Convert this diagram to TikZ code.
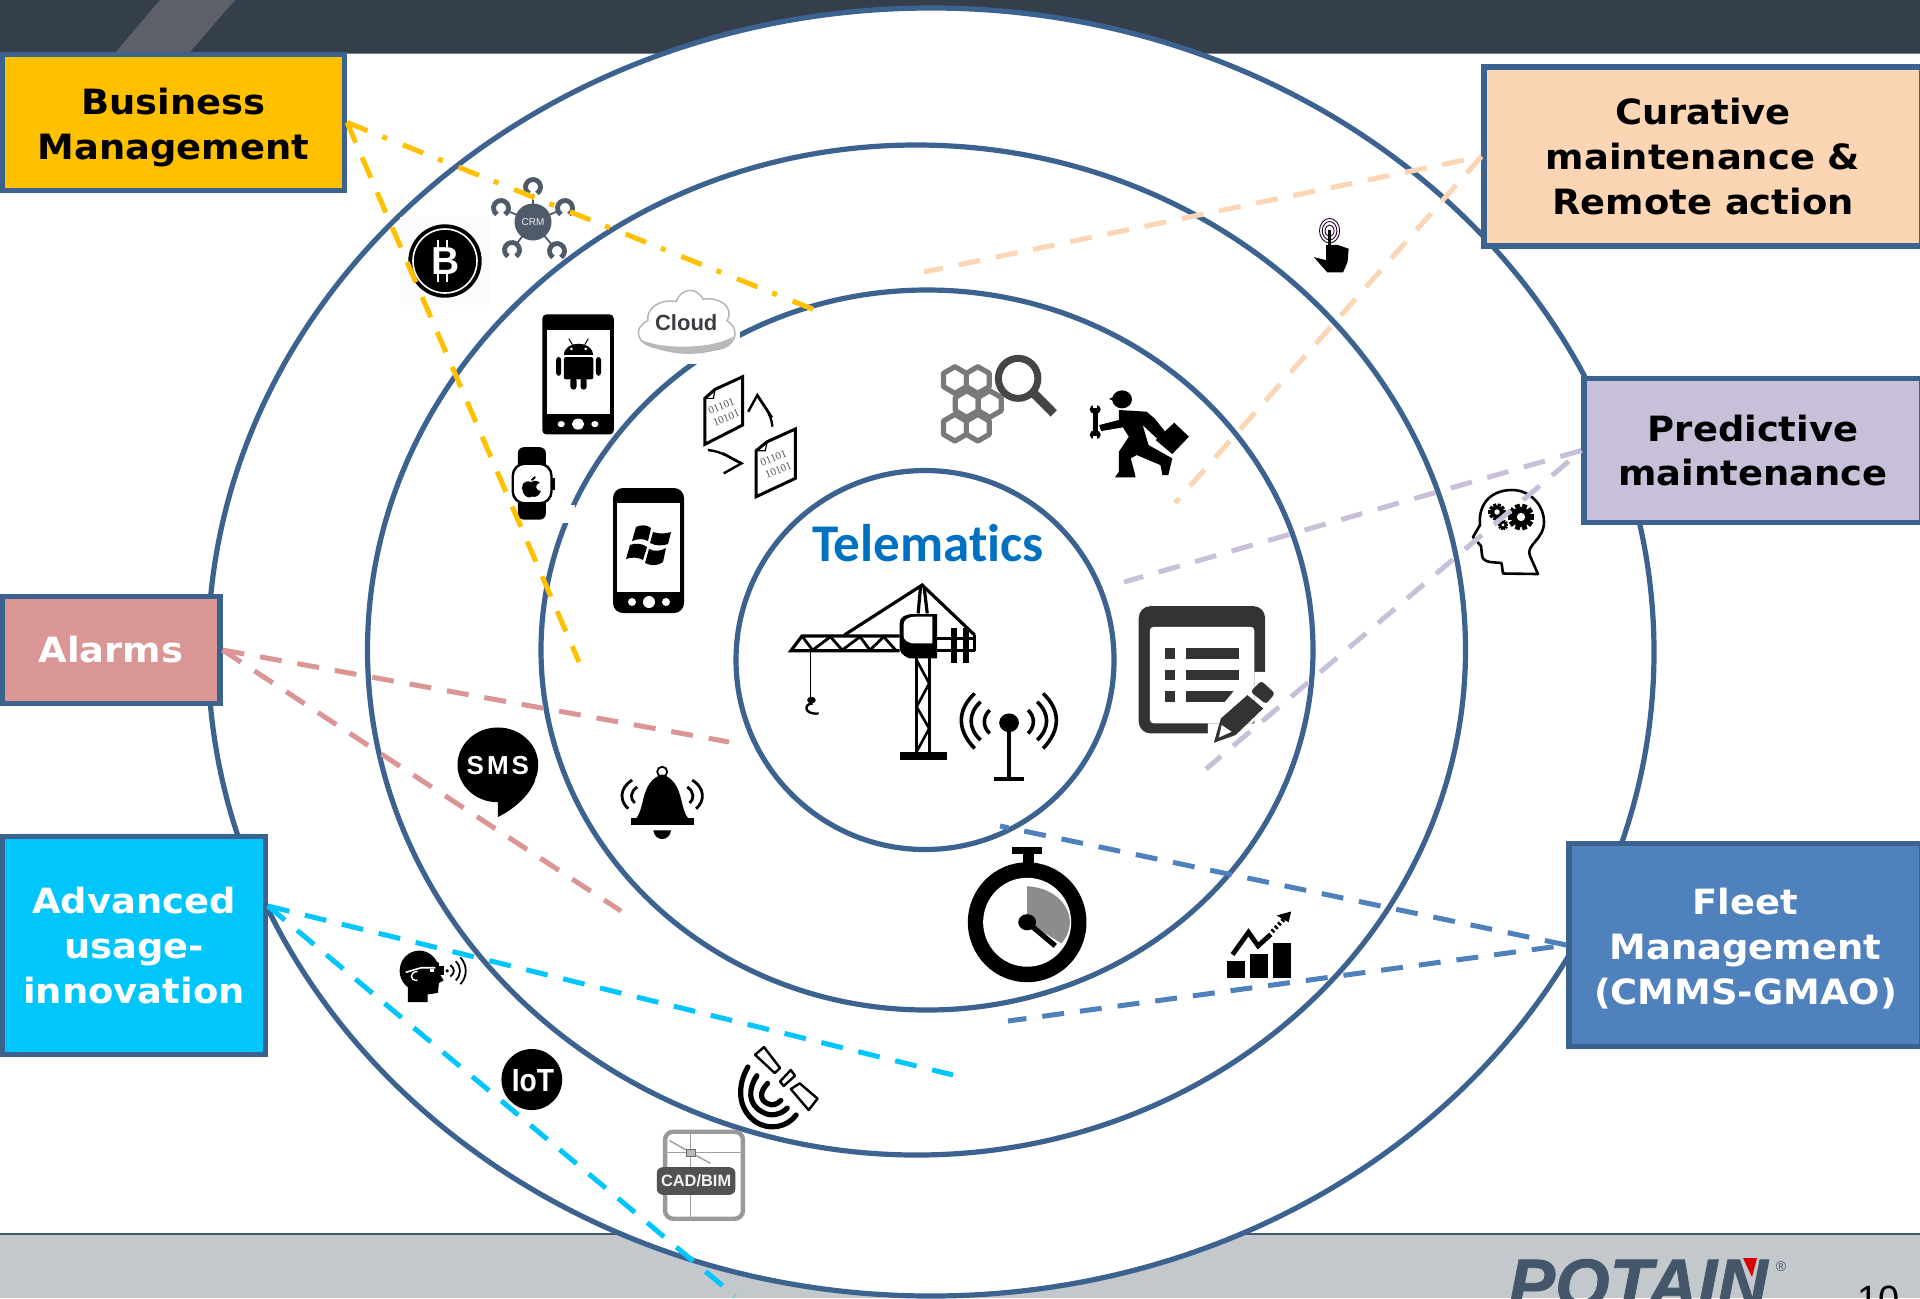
\documentclass[tikz,border=0pt]{standalone}
\usepackage{fontspec}
\usetikzlibrary{shapes.geometric}
\setmainfont{Liberation Sans}
\newfontfamily\boxfont[FakeStretch=1.06]{DejaVu Sans}
\newfontfamily\logofont[FakeBold=1.2]{Liberation Sans}
\newfontfamily\telefont{Carlito}
\newfontfamily\binfont{Liberation Serif}
\definecolor{ring}{HTML}{3C6290}
\definecolor{hdr}{HTML}{353F4B}
\definecolor{stripe}{HTML}{5D6069}
\definecolor{ftr}{HTML}{C3C8CC}
\definecolor{ftrline}{HTML}{44576A}
\definecolor{cBiz}{HTML}{FFC000}
\definecolor{cCur}{HTML}{FCD5B4}
\definecolor{cPred}{HTML}{C8C0D9}
\definecolor{cAlarm}{HTML}{D99694}
\definecolor{cAdv}{HTML}{00C6FC}
\definecolor{cFleet}{HTML}{4F81BD}
\definecolor{crmgrey}{HTML}{4F5B69}
\definecolor{teleblue}{HTML}{0070C0}
\tikzset{
 zA/.style={shift={(0,0)},x=.2551pt,y=-.1724pt},
 zB/.style={shift={(700,330)},x=.1976pt,y=-.1667pt},
 zC/.style={shift={(380,700)},x=.1786pt,y=-.1907pt},
 zD/.style={shift={(920,770)},x=.3189pt,y=-.1684pt},
 zE/.style={shift={(1040,0)},x=.2806pt,y=-.1913pt},
 ringline/.style={draw=ring,line width=2.6pt},
 infobox/.style={draw=ring,line width=2.6pt,inner sep=0pt,align=center,
   font=\boxfont\bfseries\fontsize{17.4}{22.4}\selectfont},
 conn/.style={line width=2.5pt,dash pattern=on 11pt off 8pt},
 conndot/.style={line width=2.5pt,dash pattern=on 11pt off 8pt on 2.5pt off 8.5pt},
}
\newcommand{\horseshoe}[2]{%
 \draw[crmgrey,line width=2.4pt] (#1,#2) ++(122:7.5) arc[start angle=122,end angle=418,radius=7.5];}
\newcommand{\gearicon}[3]{%
 \begin{scope}[shift={(#1,#2)}]
  \fill[black] (0,0) circle[radius=#3*0.85];
  \foreach \a in {0,36,...,324} \draw[black,line width=#3*0.22pt] (\a:#3*0.7) -- (\a:#3*1.15);
  \fill[white] (0,0) circle[radius=#3*0.36];
 \end{scope}}
\begin{document}
\begin{tikzpicture}[x=.5pt,y=-.5pt]
\useasboundingbox (0,0) rectangle (1920,1298);
\clip (0,0) rectangle (1920,1298);
\fill[white] (0,0) rectangle (1920,1298);
% header and footer
\fill[hdr] (0,0) rectangle (1920,53);
\draw[gray,line width=.5pt] (0,53.5) -- (1920,53.5);
\fill[stripe] (160,0) -- (235,0) -- (189,53) -- (115,53) -- cycle;
\fill[ftr] (0,1234) rectangle (1920,1298);
\draw[ftrline,line width=.9pt] (0,1234) -- (1920,1234);
% POTAIN logo
\node[anchor=base west,inner sep=0pt,text=ftrline,font=\logofont\bfseries\itshape\fontsize{35}{35}\selectfont] (logo) at (1508,1308) {POTAIN};
\fill[red!85!black] (1743,1258) -- (1757,1258) -- (1752,1277) -- cycle;
\node[text=ftrline,inner sep=0pt,font=\fontsize{7}{7}\selectfont] (reg) at (1781,1267) {®};
\node[anchor=base west,inner sep=0pt,font=\fontsize{19}{19}\selectfont] (pageno) at (1857,1312) {10};
% rings
\path[ringline,fill=white] (931,652) circle[x radius=723,y radius=644];
\path[ringline] (916.5,650) circle[x radius=549,y radius=505];
\path[ringline] (927,650) circle[x radius=386,y radius=360];
\path[ringline] (925,660) circle[x radius=189,y radius=189.5];
% patches interrupting rings
\fill[white] (637,285) rectangle (740,364);
\fill[white] (560,505) rectangle (575,523);
\fill[white!98.5!black] (400,217) rectangle (490,305);
% Telematics
\node[text=teleblue,inner sep=0pt,font=\telefont\bfseries\fontsize{26.5}{26.5}\selectfont] (tele) at (928,543) {Telemat\kern0pt ics};
% crane + antenna + binaries + hex + worker + form (zoom B coordinates)
\begin{scope}[zB]
 \begin{scope}[line width=1.6pt,black]
  \draw (505,918) -- (258,918) -- (230,962) -- (505,962);
  \draw[line width=1.4pt] (258,918) -- (285,960) -- (330,920) -- (360,960) -- (405,920) -- (430,960) -- (465,920) -- (495,960);
  \draw (365,915) -- (562,765) -- (695,915);
  \draw (552,850) -- (558,770); \draw (575,850) -- (567,770);
  \fill (505,880) .. controls (505,860) and (520,852) .. (540,852) -- (600,852) -- (600,985) -- (530,985) .. controls (510,975) and (505,965) .. (505,950) -- cycle;
  \fill[white] (515,885) .. controls (515,870) and (525,860) .. (545,860) -- (588,860) -- (588,940) -- (545,940) .. controls (525,940) and (515,930) .. (515,915) -- cycle;
  \draw (548,985) -- (548,1265); \draw (580,985) -- (580,1265);
  \draw[line width=1.3pt] (548,990) -- (580,1060) -- (548,1130) -- (580,1195) -- (548,1265);
  \fill (505,1265) rectangle (625,1290);
  \draw (600,925) -- (695,925); \draw (600,962) -- (695,962); \draw (695,915) -- (695,962);
  \fill (635,895) rectangle (650,1000); \fill (665,895) rectangle (680,1000);
  \draw[line width=.8pt] (280,962) -- (280,1110);
  \fill (282,1110) circle[x radius=11,y radius=10];
  \draw[line width=1.2pt] (285,1120) .. controls (262,1120) and (262,1155) .. (300,1150);
 \end{scope}
 % antenna
 \fill (782,1178) circle[x radius=25,y radius=28];
 \draw[line width=2pt] (782,1178) -- (782,1345);
 \fill (745,1342) rectangle (820,1352);
 \begin{scope}[line width=1.8pt,black]
  \draw (695,1090) .. controls (650,1140) and (650,1200) .. (695,1255);
  \draw (710,1115) .. controls (678,1150) and (678,1195) .. (710,1230);
  \draw (733,1140) .. controls (715,1160) and (715,1190) .. (733,1210);
  \draw (868,1090) .. controls (913,1140) and (913,1200) .. (868,1255);
  \draw (853,1115) .. controls (885,1150) and (885,1195) .. (853,1230);
  \draw (830,1140) .. controls (848,1160) and (848,1190) .. (830,1210);
 \end{scope}
 % binary files
 \draw[line width=1.5pt,fill=white] (38,178) -- (108,140) -- (108,285) -- (12,343) -- (12,205) -- cycle;
 \draw[line width=.6pt] (12,205) -- (34,205) -- (38,178);
 \node[rotate=22,text=gray!70!black,inner sep=0pt,align=center,font=\binfont\fontsize{5.5}{6.5}\selectfont] (bin1) at (60,245) {01101\\10101};
 \draw[line width=1.5pt,fill=white] (170,335) -- (241,297) -- (241,445) -- (142,500) -- (142,362) -- cycle;
 \draw[line width=.6pt] (142,362) -- (165,362) -- (170,335);
 \node[rotate=22,text=gray!70!black,inner sep=0pt,align=center,font=\binfont\fontsize{5.5}{6.5}\selectfont] (bin2) at (192,402) {01101\\10101};
 \draw[line width=1.2pt] (183,290) .. controls (180,245) and (160,230) .. (145,195);
 \draw[line width=1.2pt] (122,245) -- (145,195) -- (182,262);
 \draw[line width=1.2pt] (20,360) .. controls (60,365) and (75,385) .. (105,400);
 \draw[line width=1.2pt] (58,370) -- (105,400) -- (60,430);
 % hexes and magnifier
 \foreach \cx/\cy in {645/150,703/150,675/222,733/222,645/293,703/293}
  \draw[shift={(\cx,\cy)},draw=gray!95!black,line width=2.6pt,line join=round] (0,-40) -- (29,-20) -- (29,20) -- (0,40) -- (-29,20) -- (-29,-20) -- cycle;
 \path[draw=black!73,fill=white,line width=3.5pt] (805,145) circle[x radius=50,y radius=60];
 \draw[black!73,line width=4.5pt] (845,190) -- (895,250);
 % worker
 \fill (1068,208) circle[x radius=25,y radius=27];
 \fill (1035,207) -- (1055,195) -- (1055,217) -- cycle;
 \fill (1060,240) -- (1130,245) -- (1150,265) -- (1187,320) -- (1165,335) -- (1120,285) -- (1135,345) -- (1195,385) -- (1185,435) -- (1170,435) -- (1165,405) -- (1105,375) -- (1090,385) -- (1100,430) -- (1102,442) -- (1050,442) -- (1060,425) -- (1060,365) -- (1085,320) -- (1070,292) -- (1015,303) -- (1010,285) -- (1060,270) -- cycle;
 \draw[line width=2.6pt,line cap=round] (1000,240) -- (1000,312);
 \fill (1000,238) circle[x radius=14,y radius=14]; \fill (1000,314) circle[x radius=14,y radius=14];
 \fill[white] (995,222) rectangle (1005,235); \fill[white] (995,318) rectangle (1005,330);
 \fill (1200,278) -- (1237,320) -- (1195,372) -- (1153,330) -- cycle;
 % form
 \fill[black!80,rounded corners=6pt] (1110,828) rectangle (1430,1210);
 \fill[white,rounded corners=2pt] (1138,890) rectangle (1403,1180);
 \fill[white] (1285,1215) -- (1285,1180) -- (1403,1180) -- (1403,1025) -- (1435,1025) -- (1435,1215) -- cycle;
 \fill[black!80] (1177,955) rectangle (1203,987);
 \fill[black!80] (1177,1020) rectangle (1203,1050);
 \fill[black!80] (1177,1083) rectangle (1203,1115);
 \fill[black!80] (1230,955) rectangle (1363,987);
 \fill[black!80] (1230,1020) rectangle (1363,1050);
 \fill[black!80] (1230,1083) -- (1350,1083) -- (1328,1115) -- (1230,1115) -- cycle;
 \fill[black!80,rounded corners=1.5pt] (1420,1052) -- (1455,1090) -- (1432,1122) -- (1393,1085) -- cycle;
 \fill[black!80] (1385,1095) -- (1425,1135) -- (1355,1215) -- (1300,1238) -- (1318,1165) -- cycle;
 \fill[white] (1320,1185) -- (1345,1205) -- (1313,1222) -- cycle;
\end{scope}
% left upper icons (zoom A coordinates)
\begin{scope}[zA]
 % cloud
 \draw[gray!60,line width=.7pt,fill=white] (1290,1010) .. controls (1245,1000) and (1240,950) .. (1270,930) .. controls (1265,890) and (1300,865) .. (1325,875) .. controls (1335,835) and (1365,830) .. (1378,868) .. controls (1410,860) and (1440,890) .. (1425,930) .. controls (1455,960) and (1440,1010) .. (1400,1015) .. controls (1360,1030) and (1320,1025) .. (1290,1010) -- cycle;
 \fill[gray!55] (1255,985) .. controls (1300,1015) and (1400,1012) .. (1438,975) .. controls (1430,1005) and (1420,1012) .. (1400,1015) .. controls (1360,1030) and (1320,1025) .. (1290,1010) .. controls (1272,1005) and (1262,998) .. (1255,985) -- cycle;
 \node[text=black!85!cyan,inner sep=0pt,font=\bfseries\fontsize{11}{11}\selectfont] (cloudtxt) at (1345,935) {Cloud};
 % android phone
 \fill[rounded corners=2pt] (1063,912) rectangle (1203,1260);
 \fill[white] (1072,957) rectangle (1196,1200);
 \fill[white] (1100,1230) circle[x radius=7,y radius=9];
 \fill[white] (1133,1230) circle[x radius=12,y radius=16];
 \fill[white] (1166,1230) circle[x radius=7,y radius=9];
 \fill (1105,1030) .. controls (1105,985) and (1163,985) .. (1163,1030) -- cycle;
 \draw[line width=.5pt] (1115,982) -- (1122,1000); \draw[line width=.5pt] (1153,982) -- (1146,1000);
 \fill[rounded corners=1pt] (1105,1036) rectangle (1163,1100);
 \fill[rounded corners=1.5pt] (1090,1035) rectangle (1100,1090);
 \fill[rounded corners=1.5pt] (1168,1035) rectangle (1178,1090);
 \fill[rounded corners=1.5pt] (1118,1095) rectangle (1130,1130);
 \fill[rounded corners=1.5pt] (1138,1095) rectangle (1150,1130);
 \fill[white] (1120,1012) circle[x radius=3,y radius=4]; \fill[white] (1148,1012) circle[x radius=3,y radius=4];
 % apple watch
 \fill[rounded corners=3pt] (1015,1297) rectangle (1070,1507);
 \path[draw=black,fill=white,line width=1.2pt,rounded corners=6pt] (1005,1345) rectangle (1081,1460);
 \fill (1081,1385) rectangle (1087,1420);
 \fill (1041,1398) .. controls (1025,1390) and (1020,1410) .. (1025,1428) .. controls (1030,1445) and (1040,1445) .. (1042,1440) .. controls (1050,1445) and (1058,1435) .. (1060,1425) .. controls (1048,1420) and (1048,1405) .. (1058,1400) .. controls (1052,1392) and (1045,1393) .. (1041,1398) -- cycle;
 \draw[line width=.9pt] (1042,1393) -- (1049,1383);
\end{scope}
% bitcoin
\fill (445,261) circle[radius=36.7];
\draw[white,line width=.8pt] (445,261) circle[radius=32];
\node[text=white,inner sep=0pt,font=\bfseries\fontsize{19.5}{19.5}\selectfont] (btc) at (446,261) {B};
\foreach \tx in {438,447}{
 \draw[white,line width=1.3pt] (\tx,240) -- (\tx,248);
 \draw[white,line width=1.3pt] (\tx,274) -- (\tx,282);
}
% Windows phone
\fill[rounded corners=5pt] (613,488) rectangle (684,613);
\fill[white] (617,503) rectangle (680,592);
\fill[white] (632,602) circle[radius=4]; \fill[white] (649,602) circle[radius=6]; \fill[white] (666,602) circle[radius=4];
\fill (636,527) .. controls (640,525) and (646,524) .. (651,528) -- (648,541) .. controls (643,538) and (637,539) .. (632,541) -- cycle;
\fill (653,532) .. controls (659,534) and (665,534) .. (671,532) -- (668,544) .. controls (662,546) and (656,546) .. (650,543) -- cycle;
\fill (630,545) .. controls (635,543) and (642,543) .. (647,547) -- (643,560) .. controls (638,557) and (631,557) .. (626,559) -- cycle;
\fill (649,549) .. controls (655,552) and (661,551) .. (666,548) -- (663,562) .. controls (658,566) and (651,566) .. (645,563) -- cycle;
% CRM
\coordinate (crmc) at (533,222);
\foreach \hx/\hy in {533/187,501/208,565/208,512/250,557/251}{
 \draw[crmgrey,line width=.9pt] (crmc) -- (\hx,\hy);
 \fill[white] (\hx,\hy) circle[radius=7];
 \horseshoe{\hx}{\hy}
}
\node[fill=crmgrey,ellipse,minimum width=18.5pt,minimum height=18.5pt,inner sep=0pt,text=white!85!gray,font=\fontsize{5}{5}\selectfont] (crm) at (crmc) {CRM};
% lower left icons (zoom C coordinates)
\begin{scope}[zC]
 % SMS
 \fill (330,170) circle[x radius=113,y radius=98];
 \fill (330,255) -- (330,307) .. controls (375,285) and (415,255) .. (435,210) -- cycle;
 \node[text=white,inner sep=0pt,font=\bfseries\fontsize{13}{13}\selectfont] (smstxt) at (330,172) {S\kern1.5pt M\kern1.5pt S};
 % bell
 \draw[line width=.9pt] (790,188) circle[x radius=14,y radius=13];
 \fill (703,310) rectangle (878,328);
 \fill (712,315) .. controls (745,290) and (725,215) .. (790,195) .. controls (855,215) and (835,290) .. (868,315) -- cycle;
 \fill (765,342) .. controls (770,372) and (810,372) .. (815,342) -- cycle;
 \begin{scope}[line width=1.4pt]
  \draw (706,210) .. controls (670,230) and (670,265) .. (695,285);
  \draw (720,228) .. controls (700,240) and (700,260) .. (713,270);
  \draw (874,210) .. controls (910,230) and (910,265) .. (885,285);
  \draw (860,228) .. controls (880,240) and (880,260) .. (867,270);
 \end{scope}
 % VR head
 \fill (110,710) circle[x radius=55,y radius=53];
 \fill (78,750) -- (78,792) -- (133,792) -- (133,772) -- (162,768) -- (165,742) -- (178,735) -- (165,715) -- (165,690) -- (130,665) -- cycle;
 \draw[white,line width=.8pt] (72,714) -- (115,702) -- (155,702);
 \draw[white,line width=.7pt] (105,712) .. controls (82,712) and (82,737) .. (105,735);
 \fill[white] (140,706) rectangle (150,714);
 \fill (160,697) rectangle (178,722);
 \fill (188,710) circle[x radius=5,y radius=5];
 \begin{scope}[line width=.9pt]
  \draw (197,695) .. controls (210,705) and (210,715) .. (197,725);
  \draw (212,685) .. controls (228,700) and (228,720) .. (212,735);
  \draw (225,675) .. controls (245,695) and (245,725) .. (225,745);
 \end{scope}
 % IoT
 \fill (425,995) circle[x radius=85,y radius=80];
 \node[text=white,inner sep=0pt,xscale=.88,font=\bfseries\fontsize{16}{16}\selectfont] (iottxt) at (428,998) {IoT};
 % satellite
 \path[draw=black,fill=white,line width=1.2pt,line join=round] (1075,910) -- (1120,965) -- (1105,978) -- (1050,930) -- cycle;
 \path[draw=black,fill=white,line width=1.2pt,line join=round] (1120,1000) -- (1150,970) -- (1162,985) -- (1130,1012) -- cycle;
 \path[draw=black,fill=white,line width=1.2pt,line join=round] (1175,1005) -- (1225,1045) -- (1200,1075) -- (1150,1020) -- cycle;
 \begin{scope}[line width=2.6pt,line cap=round]
  \draw[white,line width=3.8pt] (1030,962) .. controls (1000,1010) and (1000,1070) .. (1050,1105) .. controls (1090,1130) and (1140,1120) .. (1170,1090);
  \draw (1030,962) .. controls (1000,1010) and (1000,1070) .. (1050,1105) .. controls (1090,1130) and (1140,1120) .. (1165,1088);
  \draw (1055,985) .. controls (1030,1020) and (1030,1060) .. (1070,1080) .. controls (1095,1095) and (1125,1085) .. (1140,1070);
  \draw (1085,1005) .. controls (1060,1030) and (1065,1050) .. (1085,1058) .. controls (1100,1065) and (1110,1060) .. (1122,1050);
 \end{scope}
 % CAD/BIM
 \path[draw=gray!80,fill=white,line width=2.2pt,rounded corners=4pt] (798,1132) rectangle (1016,1360);
 \draw[gray!75,line width=.7pt] (870,1132) -- (870,1360);
 \draw[gray!75,line width=.7pt] (798,1187) -- (1016,1187);
 \draw[gray!75,line width=.7pt] (810,1155) -- (925,1215);
 \path[draw=gray!85!black,fill=gray!55,line width=.5pt] (858,1178) rectangle (882,1197);
 \node[fill=black!68,rounded corners=3pt,minimum width=39.3pt,minimum height=13.8pt,inner sep=0pt,text=white!90!gray,font=\bfseries\fontsize{8.2}{8.2}\selectfont] (cad) at (885,1261) {CAD/BIM};
\end{scope}
% lower right icons (zoom D coordinates)
\begin{scope}[zD]
 \fill (162,240) rectangle (178,285);
 \fill (145,230) rectangle (192,250);
 \fill (168,452) circle[x radius=93,y radius=178];
 \fill[white] (168,452) circle[x radius=69,y radius=132];
 \fill[gray!90] (168,345) .. controls (215,350) and (235,410) .. (235,450) .. controls (235,480) and (228,500) .. (222,515) -- (168,452) -- cycle;
 \draw[line width=2.6pt] (168,452) -- (212,522);
 \fill (168,452) circle[x radius=14,y radius=24];
 % chart
 \fill (482,568) rectangle (510,618);
 \fill (518,545) rectangle (546,618);
 \fill (553,513) rectangle (582,618);
 \draw[line width=2.4pt,miter limit=4] (490,548) -- (515,482) -- (530,522) -- (550,488);
 \draw[line width=2.2pt,dash pattern=on 1.2pt off 1.2pt] (552,480) -- (572,440);
 \fill (582,420) -- (559,432) -- (578,452) -- cycle;
\end{scope}
% upper right icons (zoom E coordinates)
\begin{scope}[zE]
 \foreach \rx/\ry in {18/32,13/24,8/15} \draw[black!65!violet,line width=.45pt] (516,603) circle[x radius=\rx,y radius=\ry];
 \draw[line width=1.5pt] (516,600) -- (516,660);
 \fill (510,640) -- (530,640) -- (550,650) -- (548,685) -- (540,712) -- (512,712) -- (488,672) -- (510,680) -- cycle;
\end{scope}
% head with gears
\path[draw=black,fill=white,line width=1.3pt,line join=round] (1538,574) -- (1503,573.5) -- (1501.5,563) -- (1490,562) .. controls (1484,561) and (1482,558) .. (1482,555) -- (1481,546) -- (1473,537) -- (1480,525) .. controls (1478,505) and (1490,490) .. (1512,490) .. controls (1530,490) and (1544,505) .. (1544,522) .. controls (1544,540) and (1525,545) .. (1530,556) -- cycle;
\gearicon{1521}{517}{11.5}
\gearicon{1497}{512}{7.5}
\gearicon{1503}{525}{4.5}
% category boxes
\node[infobox,fill=cBiz,minimum width=171pt,minimum height=68pt] (biz) at (173.5,122.5) {\rule{0pt}{18pt}Business\\Management};
\node[infobox,fill=cCur,minimum width=219pt,minimum height=89.5pt] (cur) at (1703,156.5) {Curative\\maintenance \&\\Remote action};
\node[infobox,fill=cPred,minimum width=169pt,minimum height=72pt] (pred) at (1753,450.5) {Predictive\\maintenance};
\node[infobox,fill=cAlarm,text=white,minimum width=109pt,minimum height=53.5pt] (alarm) at (111,650) {Alarms};
\node[infobox,fill=cAdv,text=white,minimum width=131.5pt,minimum height=109pt] (adv) at (134,945.5) {Advanced\\usage-\\innovation};
\node[infobox,fill=cFleet,text=white,minimum width=176.5pt,minimum height=101.5pt] (fleet) at (1745.5,945) {\rule{0pt}{17pt}Fleet\\Management\\(CMMS-GMAO)};
% connector ends
\coordinate (bizA) at (825,314);
\coordinate (bizB) at (579,662);
\coordinate (curA) at (924,272);
\coordinate (curB) at (1175,503);
\coordinate (predA) at (1124,582);
\coordinate (predB) at (1206,769);
\coordinate (alarmA) at (729,742);
\coordinate (alarmB) at (621,911);
\coordinate (advA) at (953,1075);
\coordinate (advB) at (735,1296);
\coordinate (advP) at (268,906);
\coordinate (fleetA) at (1000,826);
\coordinate (fleetB) at (1008,1021);
% connectors
\draw[conndot,cBiz] (biz.east) -- (bizA);
\draw[conn,cBiz] (biz.east) -- (bizB);
\draw[conn,cCur,dash phase=10pt] (cur.west) -- (curA);
\draw[conn,cCur] (cur.west) -- (curB);
\draw[conn,cPred] (pred.west) -- (predA);
\draw[conn,cPred,dash phase=10.7pt] (pred.west) -- (predB);
\draw[conn,cAlarm] (alarm.east) -- (alarmA);
\draw[conn,cAlarm] (alarm.east) -- (alarmB);
\draw[conn,cAdv] (advP) -- (advA);
\draw[conn,cAdv] (advP) -- (advB);
\draw[conn,cFleet] (fleet.west) -- (fleetA);
\draw[conn,cFleet,dash phase=12.5pt] (fleet.west) -- (fleetB);
\end{tikzpicture}
\end{document}
